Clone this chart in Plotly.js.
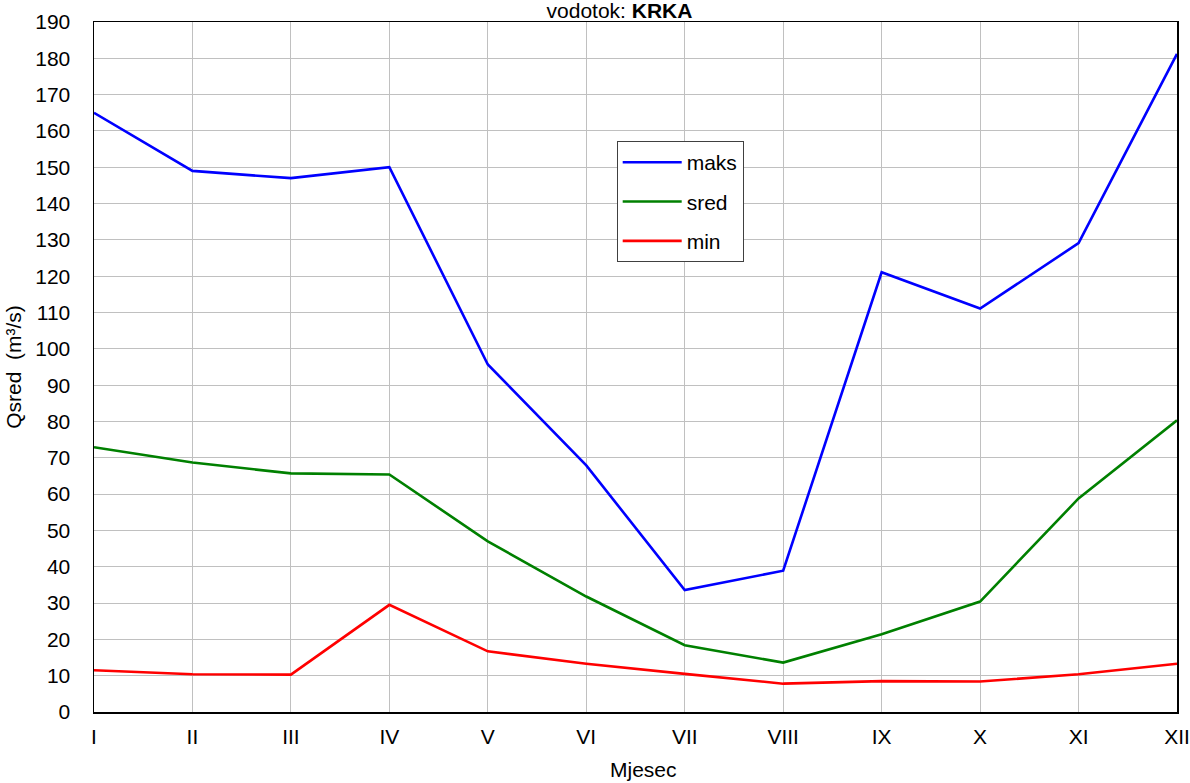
<!DOCTYPE html>
<html>
<head>
<meta charset="utf-8">
<script src="https://cdn.plot.ly/plotly-3.0.1.min.js"></script>
<style>html,body{margin:0;padding:0;background:#fff}#chart{width:1190px;height:783px}</style>
</head>
<body>
<div id="chart"></div>
<script>
const months = ["I","II","III","IV","V","VI","VII","VIII","IX","X","XI","XII"];
const maks = [165, 149, 147, 150, 95.7, 67.9, 33.6, 38.9, 121.1, 111.1, 129.1, 181.2];
const sred = [72.9, 68.7, 65.7, 65.4, 47.0, 31.8, 18.4, 13.6, 21.4, 30.4, 58.8, 80.3];
const minv = [11.5, 10.4, 10.3, 29.5, 16.7, 13.3, 10.5, 7.8, 8.5, 8.4, 10.4, 13.3];
const yTicks = [0,10,20,30,40,50,60,70,80,90,100,110,120,130,140,150,160,170,180,190];

const font = "Liberation Sans, Arial, sans-serif";
const traces = [
  {x: months, y: maks, name: "maks", legendgroup: "a", mode: "lines", line: {color: "#0000ff", width: 2.6}},
  {x: months, y: sred, name: "sred", legendgroup: "b", mode: "lines", line: {color: "#008000", width: 2.6}},
  {x: months, y: minv, name: "min", legendgroup: "c", mode: "lines", line: {color: "#ff0000", width: 2.6}}
];
const ML = 94, MR = 13, MT = 21.5, MB = 71;
const pw = 1190 - ML - MR, ph = 783 - MT - MB;
const layout = {
  width: 1190, height: 783,
  margin: {l: ML, r: MR, t: MT, b: MB, pad: 0},
  paper_bgcolor: "#fff", plot_bgcolor: "#fff",
  font: {family: font, size: 21, color: "#000"},
  title: {text: "vodotok: <b>KRKA</b>", font: {family: font, size: 21, color: "#000"},
    x: (619.5 - ML) / pw, xref: "paper", xanchor: "center", y: 1 - 10.5 / 783, yanchor: "middle"},
  showlegend: true,
  legend: {x: (616.7 - ML) / pw, y: 1 - (140.7 - MT) / ph, xanchor: "left", yanchor: "top",
    xref: "paper", yref: "paper", bgcolor: "#fff", bordercolor: "#404040", borderwidth: 1,
    font: {family: font, size: 21, color: "#000"}, tracegroupgap: 9, itemwidth: 59},
  annotations: [{
    text: "Mjesec", xref: "paper", yref: "paper", x: (643.5 - ML) / pw, y: (712 - 770) / ph,
    xanchor: "center", yanchor: "middle", showarrow: false,
    font: {family: font, size: 21, color: "#000"}
  }],
  xaxis: {
    type: "category", range: [0, 11], showgrid: true, gridcolor: "#c0c0c0", gridwidth: 1,
    showline: true, linecolor: "#000", linewidth: 1.5, mirror: true, ticks: "", ticklabelstandoff: 5,
    tickfont: {family: font, size: 21, color: "#000"},
    zeroline: false
  },
  yaxis: {
    range: [0, 190], tickvals: yTicks, showgrid: true, gridcolor: "#c0c0c0", gridwidth: 1,
    showline: true, linecolor: "#000", linewidth: 1.5, mirror: true, ticks: "", ticklabelstandoff: 18,
    tickfont: {family: font, size: 21, color: "#000"},
    title: {text: "Qsred  (m³/s)", font: {family: font, size: 21, color: "#000"}, standoff: 8},
    zeroline: false
  }
};
Plotly.newPlot("chart", traces, layout, {displayModeBar: false, staticPlot: true});
</script>
</body>
</html>
